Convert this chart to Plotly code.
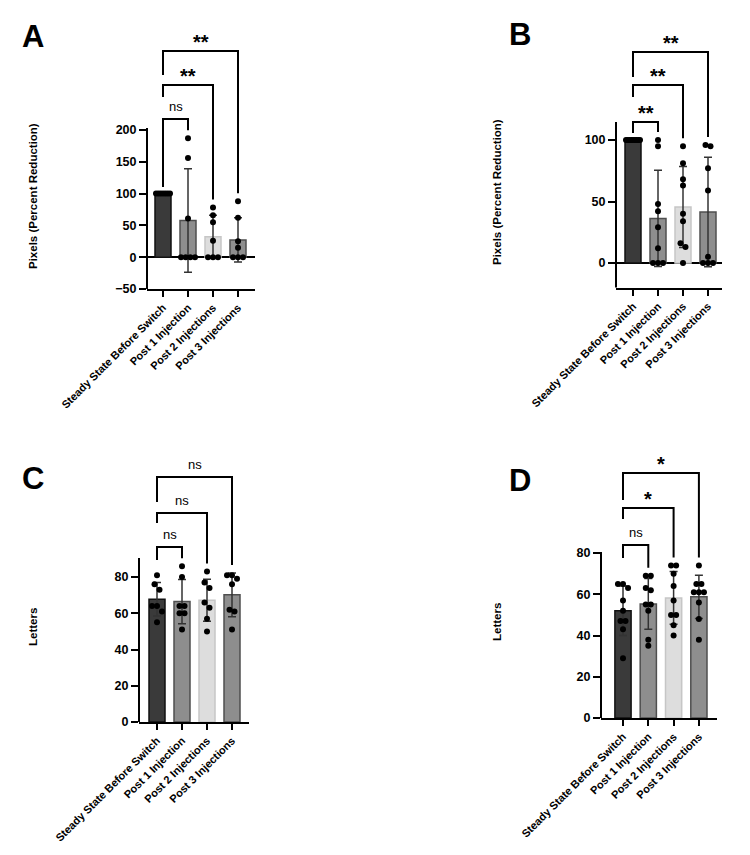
import numpy as np
import plotly.graph_objects as go

# the page adds an 8px body margin, so the figure is a bit smaller and shifted
PAGE_W, PAGE_H, OFF = 750, 855, 8
W, H = PAGE_W - 2 * OFF, PAGE_H - 2 * OFF

CATEGORIES = ["Steady State Before Switch", "Post 1 Injection",
              "Post 2 Injections", "Post 3 Injections"]

# A - pixels (percent reduction), one dot per eye
A_STEADY = [100, 100, 100, 100, 100, 100, 100]
A_POST1 = [187, 156, 61, 0, 0, 0, 0]
A_POST2 = [78, 66, 55, 26, 0, 0, 0]
A_POST3 = [88, 62, 25, 15, 0, 0, 0]
A_SIG = ["ns", "**", "**"]

# B - pixels (percent reduction)
B_STEADY = [100, 100, 100, 100, 100, 100, 100, 100, 100]
B_POST1 = [100, 95, 48, 42, 29, 12, 0, 0, 0]
B_POST2 = [95, 81, 68, 63, 40, 34, 16, 13, 0]
B_POST3 = [96, 95, 77, 59, 5, 0, 0, 0]
B_SIG = ["**", "**", "**"]

# C - letters
C_STEADY = [81, 76, 73, 64, 64, 61, 55]
C_POST1 = [86, 80, 64, 64, 60, 60, 51]
C_POST2 = [83, 77, 74, 66, 63, 57, 50]
C_POST3 = [81, 81, 79, 76, 62, 61, 51]
C_SIG = ["ns", "ns", "ns"]

# D - letters
D_STEADY = [65, 65, 63, 57, 52, 47, 47, 43, 29]
D_POST1 = [69, 69, 63, 62, 55, 55, 52, 38, 35]
D_POST2 = [74, 74, 70, 64, 57, 50, 50, 45, 40]
D_POST3 = [74, 65, 65, 61, 61, 61, 56, 48, 38]
D_SIG = ["ns", "*", "*"]

BAR_FILL = ["#3a3a3a", "#8e8e8e", "#dddddd", "#8e8e8e"]
BAR_EDGE = ["#111111", "#4f4f4f", "#c6c6c6", "#4f4f4f"]
FONT = "Arial, Liberation Sans, sans-serif"

# panel geometry in pixels of the 750x855 picture
PANELS = [
    dict(letter="A", groups=[A_STEADY, A_POST1, A_POST2, A_POST3], sig=A_SIG,
         ytitle="Pixels (Percent Reduction)", yticks=[-50, 0, 50, 100, 150, 200], zero=True,
         left=147, right=255, cat0=163, step=25,
         ybot=(-50, 289), yref=(200, 130), top=30, axis_top=128,
         brackets=[119, 85, 51], legs=[68, 12, 24],
         letter_xy=(33, 37), title_xy=(33, 196)),
    dict(letter="B", groups=[B_STEADY, B_POST1, B_POST2, B_POST3], sig=B_SIG,
         ytitle="Pixels (Percent Reduction)", yticks=[0, 50, 100], zero=True,
         left=616, right=722, cat0=633, step=25,
         ybot=(-20, 287.6), yref=(100, 140), top=30, axis_top=122,
         brackets=[122, 85, 52], legs=[11, 12, 25],
         letter_xy=(520, 35), title_xy=(497, 192)),
    dict(letter="C", groups=[C_STEADY, C_POST1, C_POST2, C_POST3], sig=C_SIG,
         ytitle="Letters", yticks=[0, 20, 40, 60, 80], zero=False,
         left=139, right=249, cat0=157, step=25,
         ybot=(0, 722), yref=(80, 577), top=455, axis_top=558,
         brackets=[547, 513, 477], legs=[13, 10, 25],
         letter_xy=(33, 478), title_xy=(33, 627)),
    dict(letter="D", groups=[D_STEADY, D_POST1, D_POST2, D_POST3], sig=D_SIG,
         ytitle="Letters", yticks=[0, 20, 40, 60, 80], zero=False,
         left=601, right=717, cat0=623, step=25.3,
         ybot=(0, 718), yref=(80, 553), top=455, axis_top=552,
         brackets=[545, 508, 473], legs=[13, 11, 27],
         letter_xy=(520, 480), title_xy=(497, 622)),
]


def px_x(x):
    return (x - OFF) / W


def px_y(y):
    return 1 - (y - OFF) / H


def spread(values, thr):
    # simple column scatter: points closer than thr are spread sideways
    order = sorted(values, reverse=True)
    xs, ys, group = [], [], []
    for v in order + [None]:
        if group and (v is None or group[0] - v >= thr):
            k = len(group)
            st = min(0.2, 0.56 / (k - 1)) if k > 1 else 0
            for i, g in enumerate(group):
                xs.append((i - (k - 1) / 2) * st)
                ys.append(g)
            group = []
        if v is not None:
            group.append(v)
    return xs, ys


fig = go.Figure()
shapes, annotations = [], []

for n, p in enumerate(PANELS, start=1):
    sfx = "" if n == 1 else str(n)
    xa, ya = "x" + sfx, "y" + sfx
    vbot, pybot = p["ybot"]
    vref, pyref = p["yref"]
    s = (pybot - pyref) / (vref - vbot)

    def to_val(py):
        return vbot + (pybot - py) / s

    yrange = [vbot, to_val(p["top"])]
    xrange = [(p["left"] - p["cat0"]) / p["step"], (p["right"] - p["cat0"]) / p["step"]]

    means = [float(np.mean(g)) for g in p["groups"]]
    sds = [float(np.std(g, ddof=1)) for g in p["groups"]]

    fig.add_trace(go.Bar(
        x=[0, 1, 2, 3], y=means, width=0.64,
        marker=dict(color=BAR_FILL, line=dict(color=BAR_EDGE, width=1.5)),
        error_y=dict(type="data", array=sds, color="#333333", thickness=1.5, width=4),
        xaxis=xa, yaxis=ya, showlegend=False, hoverinfo="skip"))

    px_, py_ = [], []
    for i, g in enumerate(p["groups"]):
        ox, oy = spread(g, 6 / s)
        px_ += [i + o for o in ox]
        py_ += oy
    fig.add_trace(go.Scatter(
        x=px_, y=py_, mode="markers", marker=dict(color="black", size=6),
        xaxis=xa, yaxis=ya, showlegend=False, hoverinfo="skip", cliponaxis=False))

    # significance brackets, all against the first group
    for j, (lvl, leg, lab) in enumerate(zip(p["brackets"], p["legs"], p["sig"]), start=1):
        g = p["groups"][j]
        top_data = max(max(g), means[j] + sds[j])
        level = to_val(lvl)
        right_end = min(top_data + 8 / s, level)
        fig.add_trace(go.Scatter(
            x=[0, 0, j, j], y=[to_val(lvl + leg), level, level, right_end],
            mode="lines", line=dict(color="black", width=2),
            xaxis=xa, yaxis=ya, showlegend=False, hoverinfo="skip"))
        star = lab != "ns"
        annotations.append(dict(
            x=j / 2, y=level, xref=xa, yref=ya, text=lab, showarrow=False,
            xanchor="center", yanchor="bottom", yshift=-4 if star else 3,
            font=dict(family=FONT, size=20 if star else 13, color="black",
                      weight="bold" if star else "normal")))

    # y axis line only up to the top tick region
    shapes.append(dict(
        type="line", xref=xa + " domain", yref=ya + " domain",
        x0=0, x1=0, y0=0, y1=(to_val(p["axis_top"]) - vbot) / (yrange[1] - vbot),
        line=dict(color="black", width=2)))

    fig.update_layout({
        "xaxis" + sfx: dict(
            domain=[px_x(p["left"]), px_x(p["right"])], range=xrange, anchor=ya,
            automargin=False,
            showline=True, linecolor="black", linewidth=2,
            ticks="outside", ticklen=6, tickwidth=2, tickcolor="black",
            tickvals=[0, 1, 2, 3], ticktext=CATEGORIES, tickangle=-45,
            tickfont=dict(family=FONT, size=11, color="black", weight="bold"),
            showgrid=False, zeroline=False, fixedrange=True),
        "yaxis" + sfx: dict(
            domain=[px_y(pybot), px_y(p["top"])], range=yrange, anchor=xa,
            automargin=False,
            showline=False, ticks="outside", ticklen=7, tickwidth=2, tickcolor="black",
            tickvals=p["yticks"],
            tickfont=dict(family=FONT, size=12.5, color="black", weight="bold"),
            showgrid=False, zeroline=p["zero"], zerolinecolor="black", zerolinewidth=2,
            fixedrange=True),
    })

    lx, ly = p["letter_xy"]
    annotations.append(dict(
        x=px_x(lx), y=px_y(ly), xref="paper", yref="paper", text=p["letter"],
        showarrow=False, xanchor="center", yanchor="middle",
        font=dict(family=FONT, size=31, color="black", weight="bold")))
    tx, ty = p["title_xy"]
    annotations.append(dict(
        x=px_x(tx), y=px_y(ty), xref="paper", yref="paper", text=p["ytitle"],
        showarrow=False, textangle=-90, xanchor="center", yanchor="middle",
        font=dict(family=FONT, size=11.5, color="black", weight="bold")))

fig.update_layout(
    width=W, height=H, margin=dict(l=0, r=0, t=0, b=0),
    paper_bgcolor="white", plot_bgcolor="white", showlegend=False,
    font=dict(family=FONT, color="black"),
    shapes=shapes, annotations=annotations, bargap=0.3)

fig.write_html("out.html")
